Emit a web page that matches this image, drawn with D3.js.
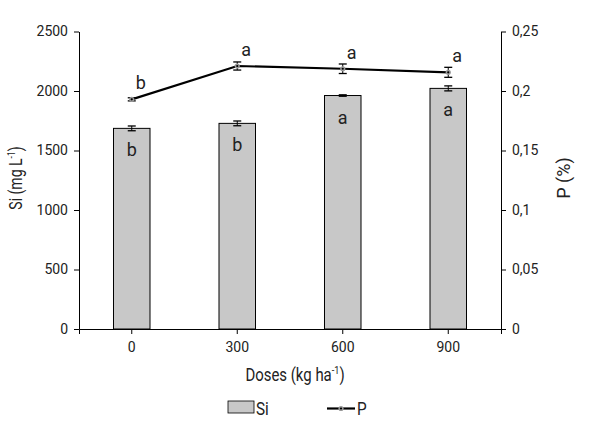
<!DOCTYPE html>
<html>
<head>
<meta charset="utf-8">
<script src="https://cdn.jsdelivr.net/npm/d3@7"></script>
<style>
  body { margin: 0; background: #fff; }
  text { font-family: Roboto, "Liberation Sans", sans-serif; fill: #222; }
</style>
</head>
<body>
<svg id="chart" width="591" height="426"></svg>
<script>
// data
let doses = ['0', '300', '600', '900'];
let siValues = [1686, 1728, 1962, 2022];
let siErrors = [20, 20, 6, 21];
let siLetters = ['b', 'b', 'a', 'a'];
let pValues = [0.193, 0.221, 0.2187, 0.2157];
let pErrors = [0.0013, 0.0034, 0.004, 0.0042];
let pLetters = ['b', 'a', 'a', 'a'];
let siTicks = [0, 500, 1000, 1500, 2000, 2500];
let pTicks = [0, 0.05, 0.1, 0.15, 0.2, 0.25];
let pTickLabels = ['0', '0,05', '0,1', '0,15', '0,2', '0,25'];

let margin = {left: 79, right: 90, top: 31.5, bottom: 97};
let w = 591, h = 426;

var svg = d3.select('#chart');

let x = d3.scaleBand().domain(doses)
    .range([margin.left, w - margin.right])
    .paddingInner(0.654).paddingOuter(0.327);
let ySi = d3.scaleLinear().domain([0, 2500]).range([h - margin.bottom, margin.top]);
let yP = d3.scaleLinear().domain([0, 0.25]).range([h - margin.bottom, margin.top]);

// axes
let gx = svg.append('g').attr('transform', `translate(0,${h - margin.bottom})`)
    .call(d3.axisBottom(x).tickSizeOuter(0).tickSize(5).tickPadding(8));
let gl = svg.append('g').attr('transform', `translate(${margin.left},0)`)
    .call(d3.axisLeft(ySi).tickValues(siTicks).tickFormat(d => String(d))
        .tickSize(5).tickSizeOuter(0).tickPadding(6));
let gr = svg.append('g').attr('transform', `translate(${w - margin.right},0)`)
    .call(d3.axisRight(yP).tickValues(pTicks).tickFormat((d, i) => pTickLabels[i])
        .tickSize(5).tickSizeOuter(0).tickPadding(6));
[gx, gl, gr].forEach(g => {
    g.selectAll('text').style('font-size', '14px').attr('fill', '#222');
    g.selectAll('line, path').attr('stroke', '#000');
});

// bars
svg.append('g').selectAll('rect').data(siValues).enter().append('rect')
    .attr('x', (d, i) => x(doses[i]))
    .attr('y', d => ySi(d))
    .attr('width', x.bandwidth())
    .attr('height', d => ySi(0) - ySi(d))
    .attr('fill', '#c8c8c8').attr('stroke', '#000').attr('stroke-width', 1);

// error bars helper
function errBar(g, cx, yTop, yBot) {
    g.append('line').attr('x1', cx).attr('x2', cx).attr('y1', yTop).attr('y2', yBot)
        .attr('stroke', '#000').attr('stroke-width', 1);
    [yTop, yBot].forEach(yy => g.append('line').attr('x1', cx - 4).attr('x2', cx + 4)
        .attr('y1', yy).attr('y2', yy).attr('stroke', '#000').attr('stroke-width', 1.3));
}

let eg = svg.append('g');
siValues.forEach((v, i) => {
    let cx = x(doses[i]) + x.bandwidth() / 2;
    errBar(eg, cx, ySi(v + siErrors[i]), ySi(v - siErrors[i]));
});

// bar letters
svg.append('g').selectAll('text').data(siLetters).enter().append('text')
    .attr('x', (d, i) => x(doses[i]) + x.bandwidth() / 2)
    .attr('y', (d, i) => ySi(siValues[i]) + 28)
    .attr('text-anchor', 'middle').style('font-size', '18px')
    .text(d => d);

// P line
let cxOf = i => x(doses[i]) + x.bandwidth() / 2;
let line = d3.line().x((d, i) => cxOf(i)).y(d => yP(d));
svg.append('path').datum(pValues).attr('d', line)
    .attr('fill', 'none').attr('stroke', '#000').attr('stroke-width', 2.2);

pValues.forEach((v, i) => {
    errBar(eg, cxOf(i), yP(v + pErrors[i]), yP(v - pErrors[i]));
});
let mg = svg.append('g');
pValues.forEach((v, i) => {
    mg.append('circle').attr('cx', cxOf(i)).attr('cy', yP(v)).attr('r', 2.6).attr('fill', '#999');
    mg.append('circle').attr('cx', cxOf(i)).attr('cy', yP(v)).attr('r', 1.1).attr('fill', '#000');
});

svg.append('g').selectAll('text').data(pLetters).enter().append('text')
    .attr('x', (d, i) => cxOf(i) + 9)
    .attr('y', (d, i) => yP(pValues[i]) - 10)
    .attr('text-anchor', 'middle').style('font-size', '18px')
    .text(d => d);

// axis titles (narrow face in the original, so squeeze a little)
let tl = svg.append('text').attr('transform', 'translate(22,178) rotate(-90) scale(0.78,1)')
    .attr('text-anchor', 'middle').style('font-size', '18px');
tl.append('tspan').text('Si (mg L');
tl.append('tspan').attr('dy', -7).style('font-size', '11px').text('-1');
tl.append('tspan').attr('dy', 7).text(')');

svg.append('text').attr('transform', 'translate(570,178) rotate(-90)')
    .attr('text-anchor', 'middle').style('font-size', '18px').text('P (%)');

let tx = svg.append('text').attr('transform', 'translate(295,381) scale(0.83,1)')
    .attr('text-anchor', 'middle').style('font-size', '18px');
tx.append('tspan').text('Doses (kg ha');
tx.append('tspan').attr('dy', -7).style('font-size', '11px').text('-1');
tx.append('tspan').attr('dy', 7).text(')');

// legend
let lg = svg.append('g');
lg.append('rect').attr('x', 228).attr('y', 401).attr('width', 26).attr('height', 12)
    .attr('fill', '#c8c8c8').attr('stroke', '#000').attr('stroke-width', 0.8);
lg.append('text').attr('transform', 'translate(256,415) scale(0.85,1)').style('font-size', '18px').text('Si');
lg.append('line').attr('x1', 327).attr('x2', 355).attr('y1', 408.5).attr('y2', 408.5)
    .attr('stroke', '#000').attr('stroke-width', 2.2);
lg.append('circle').attr('cx', 341).attr('cy', 408.5).attr('r', 2.6).attr('fill', '#999');
lg.append('circle').attr('cx', 341).attr('cy', 408.5).attr('r', 1.1).attr('fill', '#000');
lg.append('text').attr('transform', 'translate(357,415) scale(0.85,1)').style('font-size', '18px').text('P');
</script>
</body>
</html>
